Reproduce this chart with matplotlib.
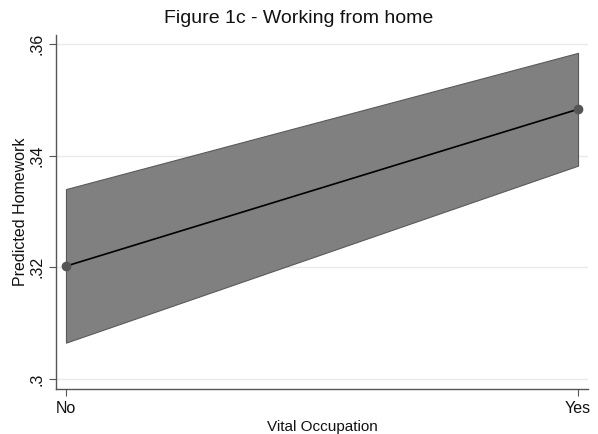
import numpy as np
import matplotlib
matplotlib.use("Agg")
import matplotlib.pyplot as plt

plt.rcParams["font.family"] = ["Liberation Sans", "DejaVu Sans"]

# predykcje z przedzialami ufnosci
categories = ["No", "Yes"]
predicted = [0.3202, 0.3483]
ci_low = [0.3065, 0.3382]
ci_high = [0.3340, 0.3584]
yticks = [0.30, 0.32, 0.34, 0.36]
ytick_labels = [".3", ".32", ".34", ".36"]

x = np.arange(len(categories))

fig = plt.figure(figsize=(5.98, 4.34), dpi=100)
ax = fig.add_axes([0.0936, 0.1037, 0.8897, 0.8157])

for y in yticks:
    ax.axhline(y, color="#eaeaea", lw=1.0, zorder=0)

ax.fill_between(x, ci_low, ci_high, facecolor="#808080", edgecolor="#5a5a5a",
                lw=0.8, zorder=2)
ax.plot(x, predicted, color="black", lw=1.2, zorder=3)
ax.plot(x, predicted, "o", color="#555555", ms=6, zorder=4, clip_on=False)

ax.set_xlim(-0.0195, 1.0195)
ax.set_ylim(0.2982, 0.3616)
ax.set_xticks(x)
ax.set_xticklabels(categories, fontsize=11.5)
ax.set_yticks(yticks)
ax.set_yticklabels(ytick_labels, fontsize=11.5, rotation=90, va="center")

for s in ["top", "right"]:
    ax.spines[s].set_visible(False)
for s in ["left", "bottom"]:
    ax.spines[s].set_color("#555555")
    ax.spines[s].set_linewidth(1.0)
ax.tick_params(colors="#555555", labelcolor="#111111", length=5, width=0.8)

ax.set_xlabel("Vital Occupation", fontsize=11, labelpad=3, color="#111111")
ax.set_ylabel("Predicted Homework", fontsize=11.5, labelpad=1, color="#111111")
fig.suptitle("Figure 1c - Working from home", fontsize=14, y=0.978, color="#111111")

fig.savefig("out.png", dpi=100, facecolor="white")
